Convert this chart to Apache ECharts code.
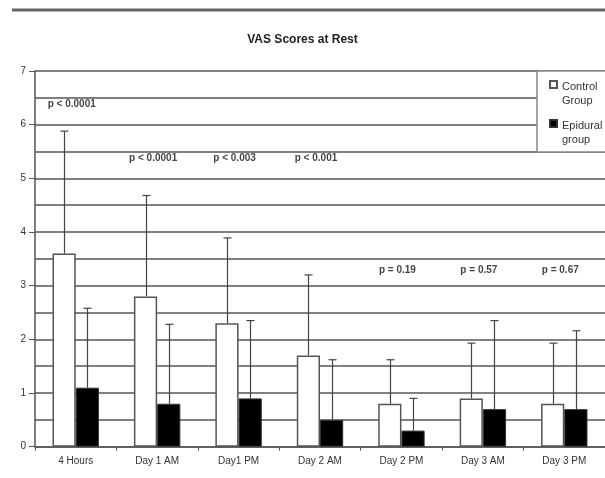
<!DOCTYPE html>
<html>
<head>
<meta charset="utf-8">
<script src="https://cdn.jsdelivr.net/npm/echarts@6/dist/echarts.min.js"></script>
<style>html,body{margin:0;padding:0;background:#fff}#c{width:605px;height:478px}</style>
</head>
<body>
<div id="c"></div>
<script>
const categories = ['4 Hours', 'Day 1 AM', 'Day1 PM', 'Day 2 AM', 'Day 2 PM', 'Day 3 AM', 'Day 3 PM'];
const controlMeans = [3.6, 2.8, 2.3, 1.7, 0.8, 0.9, 0.8];
const epiduralMeans = [1.1, 0.8, 0.9, 0.5, 0.3, 0.7, 0.7];
const controlUpper = [5.88, 4.68, 3.89, 3.2, 1.62, 1.93, 1.93];
const epiduralUpper = [2.58, 2.28, 2.35, 1.62, 0.9, 2.35, 2.16];
const pLabels = ['p < 0.0001', 'p < 0.0001', 'p < 0.003', 'p < 0.001', 'p = 0.19', 'p = 0.57', 'p = 0.67'];
const pLevels = [6.38, 5.38, 5.38, 5.38, 3.29, 3.29, 3.29];
const yTicks = [0, 1, 2, 3, 4, 5, 6, 7];

const GAP = 0.43;
const FONT = 'Liberation Sans, Arial, sans-serif';

function errRender(sign) {
  return function (params, api) {
    const x = api.value(0), mean = api.value(1), up = api.value(2);
    const band = api.size([1, 0])[0];
    const bw = band * (1 - GAP) / 2;
    const base = api.coord([x, mean]);
    const top = api.coord([x, up]);
    const cx = Math.round(base[0] + sign * bw / 2) + 0.5;
    const st = { stroke: '#444', lineWidth: 1.2 };
    return {
      type: 'group',
      children: [
        { type: 'line', shape: { x1: cx, y1: base[1], x2: cx, y2: top[1] }, style: st },
        { type: 'line', shape: { x1: cx - 4, y1: top[1], x2: cx + 4, y2: top[1] }, style: st }
      ]
    };
  };
}

const chart = echarts.init(document.getElementById('c'));
chart.setOption({
  animation: false,
  backgroundColor: '#fff',
  title: {
    text: 'VAS Scores at Rest',
    left: 'center',
    top: 29,
    textStyle: { fontFamily: FONT, fontSize: 12, fontWeight: 'bold', color: '#222' }
  },
  graphic: [
    { type: 'line', shape: { x1: 12, y1: 10, x2: 605, y2: 10 }, style: { stroke: '#666', lineWidth: 3 } }
  ],
  legend: {
    orient: 'vertical',
    left: 537,
    top: 71,
    padding: [9, 30, 5, 12],
    itemGap: 11,
    itemWidth: 7,
    itemHeight: 26,
    backgroundColor: '#fff',
    borderColor: '#888',
    borderWidth: 1.5,
    borderRadius: 0,
    icon: 'path://M0,0L7,0L7,7L0,7Z M7,26L7,26',
    textStyle: { fontFamily: FONT, fontSize: 11, lineHeight: 14, color: '#333' },
    formatter: function (n) { return n.replace(' ', '\n'); },
    data: ['Control Group', 'Epidural group']
  },
  grid: { left: 35, top: 71, right: -11, bottom: 31.3, containLabel: false },
  xAxis: {
    type: 'category',
    data: categories,
    axisLine: { lineStyle: { color: '#555', width: 1.5 } },
    axisTick: { show: true, length: 4, lineStyle: { color: '#555' } },
    axisLabel: { fontFamily: FONT, fontSize: 10, color: '#333', margin: 10 }
  },
  yAxis: {
    type: 'value',
    min: 0,
    max: 7,
    interval: 1,
    axisLine: { show: true, lineStyle: { color: '#555', width: 1.5 } },
    axisTick: { show: true, length: 6, lineStyle: { color: '#555' } },
    axisLabel: {
      fontFamily: FONT, fontSize: 10, color: '#333', margin: 9,
      formatter: function (v) { return yTicks.indexOf(v) >= 0 ? String(v) : ''; }
    },
    splitLine: { show: true, lineStyle: { color: '#808080', width: 2 } },
    minorTick: { show: false, splitNumber: 2 },
    minorSplitLine: { show: true, lineStyle: { color: '#808080', width: 2 } }
  },
  series: [
    {
      name: 'Control Group',
      type: 'bar',
      data: controlMeans,
      barGap: '0%',
      barCategoryGap: (GAP * 100) + '%',
      itemStyle: { color: '#fff', borderColor: '#555', borderWidth: 1.5 },
      z: 3
    },
    {
      name: 'Epidural group',
      type: 'bar',
      data: epiduralMeans,
      barGap: '0%',
      barCategoryGap: (GAP * 100) + '%',
      itemStyle: { color: '#000', borderColor: '#333', borderWidth: 1 },
      z: 3
    },
    {
      name: 'errControl',
      type: 'custom',
      renderItem: errRender(-1),
      data: controlMeans.map((m, i) => [i, m, controlUpper[i]]),
      z: 4,
      silent: true
    },
    {
      name: 'errEpidural',
      type: 'custom',
      renderItem: errRender(1),
      data: epiduralMeans.map((m, i) => [i, m, epiduralUpper[i]]),
      z: 4,
      silent: true
    },
    {
      name: 'pValues',
      type: 'scatter',
      symbolSize: 0,
      data: pLevels.map((y, i) => [i, y]),
      label: {
        show: true,
        position: 'inside',
        offset: [-4, 0],
        fontFamily: FONT,
        fontSize: 10,
        fontWeight: 'bold',
        color: '#111',
        formatter: function (p) { return pLabels[p.dataIndex]; }
      },
      z: 5,
      silent: true
    }
  ]
});
</script>
</body>
</html>
